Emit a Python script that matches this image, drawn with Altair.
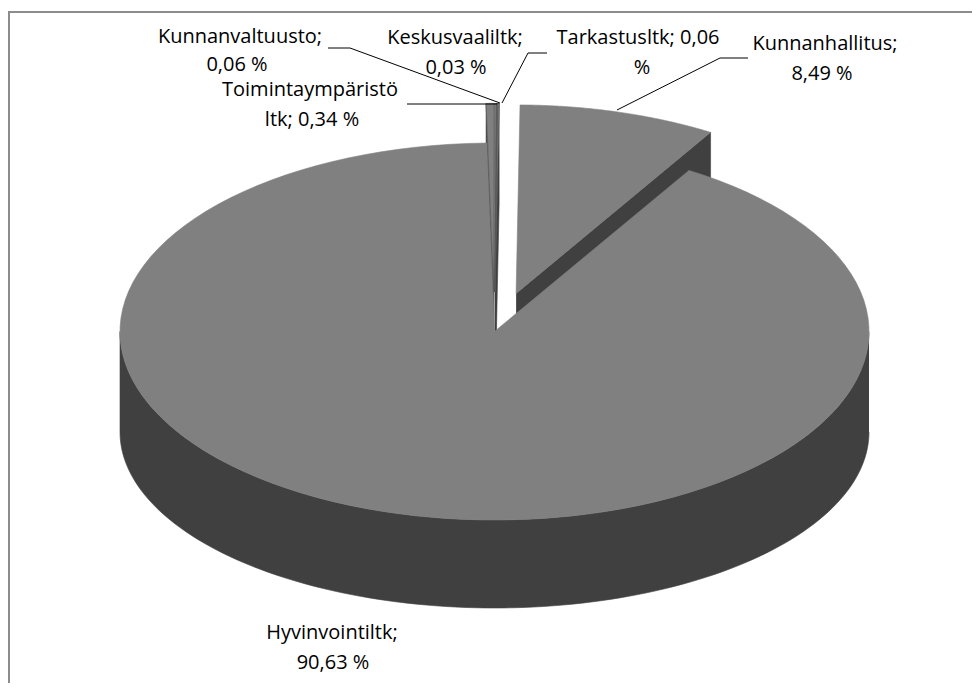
import altair as alt
import pandas as pd

# ---- data ----
labels = ["Kunnanhallitus", "Hyvinvointiltk", "Toimintaympäristöltk",
          "Kunnanvaltuusto", "Keskusvaaliltk", "Tarkastusltk"]
values = [8.49, 90.63, 0.34, 0.06, 0.03, 0.06]

# ---- style / layout ----
explode = {"Kunnanhallitus": 0.21, "Hyvinvointiltk": 0.0, "Toimintaympäristöltk": 0.21,
           "Kunnanvaltuusto": 0.21, "Keskusvaaliltk": 0.21, "Tarkastusltk": 0.21}
W, H = 964, 675
CX, CY, RX, RY = 486.5, 323.5, 374.5, 188.5          # top face ellipse
CYB, RYB = 424.0, 176.0                                # bottom rim ellipse
DEPTH = CYB - CY
ROT = 0.0105  # start rotation (radians)
N = 120
TOP = "#808080"
SIDE = "#404040"
FONT = "Open Sans"
FS = 20

label_layout = {
    "Kunnanvaltuusto": dict(split=16, p1=(232, 29), p2=(229, 57)),
    "Toimintaympäristöltk": dict(split=17, p1=(302, 82), p2=(304, 112)),
    "Keskusvaaliltk": dict(split=15, p1=(447, 30), p2=(448, 60)),
    "Tarkastusltk": dict(split=18, p1=(630, 30), p2=(634, 60)),
    "Kunnanhallitus": dict(split=15, p1=(817, 36), p2=(814, 66)),
    "Hyvinvointiltk": dict(split=15, p1=(324, 625), p2=(325, 655)),
}
leader_layout = {
    "Kunnanvaltuusto": [(320, 40), (342, 40), (492, 95)],
    "Toimintaympäristöltk": [(399, 96), (489, 96)],
    "Tarkastusltk": [(539, 45), (520, 45), (494, 95)],
    "Kunnanhallitus": [(740, 50), (712, 50), (609, 102)],
}

slices = pd.DataFrame({
    "label": labels,
    "value": values,
    "idx": list(range(len(labels))),
    "explode": [explode[l] for l in labels],
})

text_rows = []
for l, v in zip(labels, values):
    full = f"{l}; {v:.2f} %".replace(".", ",")
    lay = label_layout[l]
    s = lay["split"]
    text_rows.append(dict(t=full[:s].strip(), x=lay["p1"][0], y=lay["p1"][1]))
    text_rows.append(dict(t=full[s:].strip(), x=lay["p2"][0], y=lay["p2"][1]))
texts = pd.DataFrame(text_rows)

lead_rows = []
for l, pts in leader_layout.items():
    for i, (x, y) in enumerate(pts):
        lead_rows.append(dict(name=l, k=i, x=x, y=y))
leads = pd.DataFrame(lead_rows)

xs = alt.Scale(domain=[0, W], nice=False, zero=False)
ys = alt.Scale(domain=[0, H], nice=False, zero=False, reverse=True)
X = lambda f: alt.X(f, scale=xs, axis=None)
Y = lambda f: alt.Y(f, scale=ys, axis=None)


def base():
    return (
        alt.Chart(slices)
        .transform_joinaggregate(total="sum(value)")
        .transform_window(cum="sum(value)", sort=[alt.SortField("idx")], frame=[None, 0])
        .transform_calculate(
            a0=f"{ROT} + 2*PI*(datum.cum - datum.value)/datum.total",
            a1=f"{ROT} + 2*PI*datum.cum/datum.total",
        )
        .transform_calculate(mid="(datum.a0 + datum.a1)/2")
        .transform_calculate(
            ox=f"datum.explode*{RX}*sin(datum.mid)",
            oy=f"-datum.explode*{RY}*cos(datum.mid)",
        )
    )


def poly(chart, fill, stroke=None, sw=0.6):
    enc = dict(x=X("px:Q"), y=Y("py:Q"), order=alt.Order("k:Q"), detail="label:N")
    if stroke is None:
        stroke = alt.value(fill)
    enc["stroke"] = stroke
    return chart.mark_line(fill=fill, strokeWidth=sw, interpolate="linear").encode(**enc)


def top_face(flt):
    return (
        base().transform_filter(flt)
        .transform_calculate(k=f"sequence(0, {N + 3})")
        .transform_flatten(["k"])
        .transform_calculate(
            apex=f"datum.k == 0 || datum.k == {N + 2}",
            ang=f"datum.a0 + (datum.a1 - datum.a0)*clamp(datum.k - 1, 0, {N})/{N}",
        )
        .transform_calculate(
            px=f"{CX} + datum.ox + (datum.apex ? 0 : {RX}*sin(datum.ang))",
            py=f"{CY} + datum.oy - (datum.apex ? 0 : {RY}*cos(datum.ang))",
        )
    )


def wall(flt):
    return (
        base().transform_filter(flt)
        .transform_calculate(w0="max(datum.a0, PI/2)", w1="min(datum.a1, 3*PI/2)")
        .transform_filter("datum.w1 > datum.w0")
        .transform_calculate(k=f"sequence(0, {2 * N + 2})")
        .transform_flatten(["k"])
        .transform_calculate(
            bot=f"datum.k > {N}",
            ang=f"datum.k <= {N} ? datum.w0 + (datum.w1 - datum.w0)*datum.k/{N} : datum.w1 - (datum.w1 - datum.w0)*(datum.k - {N + 1})/{N}",
        )
        .transform_calculate(
            px=f"{CX} + datum.ox + {RX}*sin(datum.ang)",
            py=f"datum.oy + (datum.bot ? {CYB} - {RYB}*cos(datum.ang) : {CY} - {RY}*cos(datum.ang))",
        )
    )


def radial(flt, which):
    cond = "sin(datum.fa) > 0.0001" if which == "a1" else "sin(datum.fa) < -0.0001"
    return (
        base().transform_filter(flt)
        .transform_calculate(fa=f"datum.{which}")
        .transform_filter(cond)
        .transform_calculate(k="sequence(0, 4)")
        .transform_flatten(["k"])
        .transform_calculate(
            rim="datum.k == 1 || datum.k == 2",
            dz=f"(datum.k == 2 || datum.k == 3) ? {DEPTH} : 0",
        )
        .transform_calculate(
            px=f"{CX} + datum.ox + (datum.rim ? {RX}*sin(datum.fa) : 0)",
            py=f"{CY} + datum.oy - (datum.rim ? {RY}*cos(datum.fa) : 0) + datum.dz",
        )
    )


back = "datum.explode > 0"
front = "datum.explode == 0"
small_stroke = alt.condition("datum.value < 1", alt.value("#555555"), alt.value(TOP))

layers = [
    poly(radial(back, "a1"), SIDE),
    poly(radial(back, "a0"), SIDE),
    poly(top_face(back), TOP, small_stroke),
    poly(wall(front), SIDE),
    poly(radial(front, "a1"), SIDE),
    poly(radial(front, "a0"), SIDE),
    poly(top_face(front), TOP),
]

leader = alt.Chart(leads).mark_line(color="black", strokeWidth=1).encode(
    x=X("x:Q"), y=Y("y:Q"), order=alt.Order("k:Q"), detail="name:N"
)
label_marks = alt.Chart(texts).mark_text(
    font=FONT, fontSize=FS, color="black", align="center", baseline="middle"
).encode(x=X("x:Q"), y=Y("y:Q"), text="t:N")

border_left = alt.Chart(slices).mark_rule(color="#8c8c8c", strokeWidth=1.5).encode(
    x=alt.value(0.75), y=alt.value(4), y2=alt.value(H)
)
border_top = alt.Chart(slices).mark_rule(color="#8c8c8c", strokeWidth=1.5).encode(
    x=alt.value(0), x2=alt.value(W), y=alt.value(4)
)

chart = (
    alt.layer(*layers, leader, label_marks, border_left, border_top)
    .properties(width=W, height=H, padding=0,
                autosize=alt.AutoSizeParams(type="none"),
                view=alt.ViewBackground(stroke="transparent", strokeWidth=0))
    .configure(background="white", view=alt.ViewConfig(stroke="transparent", strokeWidth=0))
)

chart.save("out.html", embed_options={"renderer": "svg", "actions": False})
